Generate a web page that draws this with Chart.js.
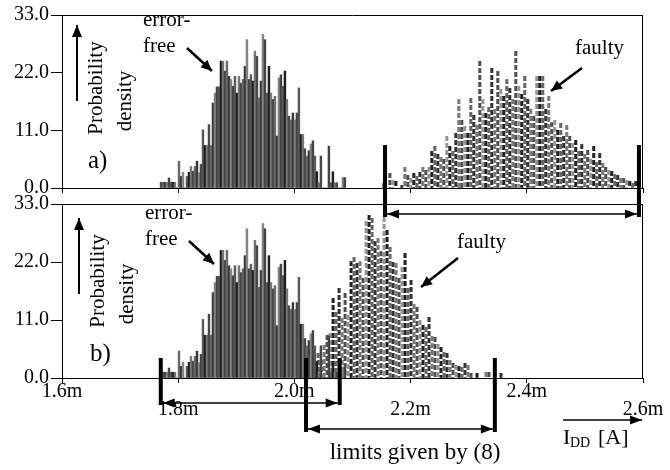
<!DOCTYPE html>
<html>
<head>
<meta charset="utf-8">
<script src="https://cdn.jsdelivr.net/npm/chart.js@4.4.1/dist/chart.umd.min.js"></script>
<style>
  html, body { margin: 0; padding: 0; background: #fff; }
  #wrap { position: relative; width: 670px; height: 470px; }
  #wrap canvas { position: absolute; left: 0; top: 0; }
</style>
</head>
<body>
<div id="wrap">
  <canvas id="chartA" width="670" height="470"></canvas>
  <canvas id="chartB" width="670" height="470"></canvas>
</div>
<script>
// axis ticks (I_DD in mA, probability density)
const xTicks = [1.6, 1.8, 2.0, 2.2, 2.4, 2.6]
const yTicks = [0, 11, 22, 33]

// error-free histogram (same in a and b)
const freeStart = 1.7704
const freeBin = 0.00344
const freeValues = [
  1.1, 1.1, 1.1, 1.1, 1.9, 1.1, 1.1, 1.1, 0, 5.1,
  2.2, 3.0, 0, 2.2, 3.0, 4.1, 3.2, 4.1, 5.1, 2.9,
  4.5, 11.1, 8.1, 8.1, 12.1, 8.1, 16.2, 18.1, 19.3, 19.3,
  24.2, 24.2, 22.3, 24.2, 21.3, 20.7, 19.4, 21.3, 18.1, 21.3,
  20.0, 20.7, 23.2, 28.3, 20.7, 21.6, 20.4, 26.1, 25.1, 17.2,
  20.4, 29.3, 28.3, 18.1, 23.2, 18.1, 16.9, 17.5, 9.9, 21.0,
  21.6, 19.4, 22.3, 16.9, 13.7, 13.0, 14.3, 13.0, 14.3, 19.1,
  10.2, 10.2, 7.5, 6.1, 7.1, 8.4, 9.0, 6.1, 3.1, 1.0,
  6.1, 0, 0, 0, 8.0, 1.0, 3.1, 1.0, 1.0, 0,
  0, 2.0, 2.0
]

// faulty histogram, panel a)
const faultyAStart = 2.154
const faultyABin = 0.00516
const faultyAValues = [
  1.0, 0, 2.9, 1.5, 1.3, 0, 0.5, 4.1, 2.5, 2.0,
  2.8, 2.2, 3.0, 4.1, 3.5, 4.1, 7.0, 8.0, 6.5, 6.0,
  5.5, 9.9, 8.0, 7.0, 10.5, 16.9, 13.0, 11.8, 10.5, 17.2,
  14.0, 12.0, 24.2, 16.9, 14.3, 15.5, 22.9, 15.0, 22.3, 18.8,
  17.5, 20.7, 19.1, 17.0, 26.1, 19.4, 18.0, 21.3, 16.9, 15.0,
  13.7, 21.3, 21.3, 21.3, 15.0, 17.5, 12.5, 13.0, 11.0, 12.4,
  10.0, 12.1, 9.9, 8.5, 9.2, 7.0, 8.3, 6.5, 7.3, 5.5,
  8.0, 5.0, 6.7, 4.8, 4.1, 3.5, 3.2, 2.6, 2.5, 1.9,
  1.9, 1.5, 1.3, 1.0, 1.3, 0.8
]

// faulty histogram, panel b)
const faultyBStart = 2.015
const faultyBBin = 0.00516
const faultyBValues = [
  1.0, 2.0, 1.5, 2.8, 3.0, 4.7, 3.5, 6.3, 8.2, 8.5,
  15.1, 12.6, 17.0, 11.3, 16.1, 12.0, 22.1, 23.0, 21.8, 22.1,
  18.9, 29.7, 31.0, 30.3, 25.9, 26.5, 24.0, 30.6, 28.1, 24.9,
  22.0, 21.8, 19.0, 21.1, 23.7, 17.0, 18.6, 14.0, 13.5, 11.0,
  10.0, 9.7, 11.6, 8.0, 7.8, 6.5, 5.9, 5.0, 4.7, 3.5,
  2.8, 2.5, 2.2, 2.0, 2.8, 2.5, 1.0, 0, 0.9, 0,
  0, 1.2, 1.2, 0, 0, 0, 0.9
]

// limits (thick black markers)
const limitsA = [2.156, 2.593]
const limitsB1 = [1.770, 2.078]
const limitsB2 = [2.020, 2.345]

const FONT = '"Liberation Serif", "DejaVu Serif", serif'
const freeShades = ['#474747', '#6a6a6a', '#383838', '#858585', '#444444', '#5a5a5a', '#1e1e1e', '#767676']
const dashShades = ['#333333', '#7a7a7a', '#505050', '#959595', '#222222', '#666666']
const DASH = 7, DASH_ON = 5

const patternCache = {}
function dashPattern(color, phase) {
  const key = color + '_' + phase
  if (!patternCache[key]) {
    const c = document.createElement('canvas')
    c.width = 1
    c.height = DASH
    const g = c.getContext('2d')
    g.fillStyle = color
    for (let j = 0; j < DASH; j++) {
      if ((((j - phase) % DASH) + DASH) % DASH < DASH_ON) g.fillRect(0, j, 1, 1)
    }
    patternCache[key] = g.createPattern(c, 'repeat')
  }
  return patternCache[key]
}

function dashColor(ctx) {
  const shade = dashShades[ctx.dataIndex % dashShades.length]
  const chart = ctx.chart
  if (!chart.scales || !chart.scales.y || !ctx.raw) return shade
  const top = Math.round(chart.scales.y.getPixelForValue(ctx.raw.y))
  return dashPattern(shade, ((top % DASH) + DASH) % DASH)
}

function toPoints(start, bin, values) {
  return values.map((v, i) => ({x: start + i * bin, y: v}))
}

function line(ctx, x1, y1, x2, y2, w) {
  ctx.lineWidth = w
  ctx.beginPath()
  ctx.moveTo(x1, y1)
  ctx.lineTo(x2, y2)
  ctx.stroke()
}

function head(ctx, x1, y1, x2, y2, len, half) {
  const a = Math.atan2(y2 - y1, x2 - x1)
  const c = Math.cos(a), s = Math.sin(a)
  ctx.beginPath()
  ctx.moveTo(x2, y2)
  ctx.lineTo(x2 - len * c + half * s, y2 - len * s - half * c)
  ctx.lineTo(x2 - len * c - half * s, y2 - len * s + half * c)
  ctx.closePath()
  ctx.fill()
}

function arrow(ctx, x1, y1, x2, y2, w, len, half) {
  line(ctx, x1, y1, x2, y2, w)
  head(ctx, x1, y1, x2, y2, len, half)
}

function doubleArrow(ctx, x1, x2, y) {
  line(ctx, x1, y, x2, y, 1.5)
  head(ctx, x2, y, x1, y, 12, 4.5)
  head(ctx, x1, y, x2, y, 12, 4.5)
}

function limitBar(ctx, x, y1, y2) {
  ctx.fillRect(x - 2, y1, 4, y2 - y1)
}

function text(ctx, s, x, y, size, align) {
  ctx.font = size + 'px ' + FONT
  ctx.textAlign = align || 'left'
  ctx.textBaseline = 'middle'
  ctx.fillText(s, x, y)
}

function vtext(ctx, s, x, y, size) {
  ctx.save()
  ctx.translate(x, y)
  ctx.rotate(-Math.PI / 2)
  text(ctx, s, 0, 0, size, 'center')
  ctx.restore()
}

// common panel decoration: top/right frame and labels
function drawPanel(ctx, area, n) {
  line(ctx, area.left, area.top + 0.5, area.right, area.top + 0.5, 1)
  line(ctx, area.right - 0.5, area.top, area.right - 0.5, area.bottom, 1)
  const t = area.top
  text(ctx, 'error-', 143 + n.dx, t + 5 + n.dy, 21)
  text(ctx, 'free', 143 + n.dx, t + 31 + n.dy, 21)
  arrow(ctx, 187 + n.dx, t + 33 + n.dy, 212 + n.dx, t + 56 + n.dy, 2.5, 11, 5)
  vtext(ctx, 'Probability', 96 + n.dx, t + 73 + n.dy, 21)
  vtext(ctx, 'density', 125 + n.dx, t + 86 + n.dy, 21)
  arrow(ctx, 77 + n.dx, t + 86 + n.dy, 77 + n.dx, t + 10 + n.dy, 2, 12, 5)
  text(ctx, n.tag, 88 + n.dx, t + 146 + n.dy, 25)
}

const panelAPlugin = {
  id: 'panelA',
  afterDraw(chart) {
    const ctx = chart.ctx
    const x = chart.scales.x
    const area = chart.chartArea
    ctx.save()
    ctx.fillStyle = '#000'
    ctx.strokeStyle = '#000'
    drawPanel(ctx, area, {dx: 0, dy: 0, tag: 'a)'})
    text(ctx, 'faulty', 575, 48, 21)
    arrow(ctx, 582, 68, 551, 91, 2.5, 11, 5)
    const xa = x.getPixelForValue(limitsA[0])
    const xb = x.getPixelForValue(limitsA[1])
    limitBar(ctx, xa, 145, 217)
    limitBar(ctx, xb, 145, 217)
    doubleArrow(ctx, xa + 2, xb - 2, 214)
    ctx.restore()
  }
}

const panelBPlugin = {
  id: 'panelB',
  afterDraw(chart) {
    const ctx = chart.ctx
    const x = chart.scales.x
    const area = chart.chartArea
    ctx.save()
    ctx.fillStyle = '#000'
    ctx.strokeStyle = '#000'
    drawPanel(ctx, area, {dx: 2, dy: 4, tag: 'b)'})
    text(ctx, 'faulty', 457, 242, 21)
    arrow(ctx, 458, 258, 421, 287, 2.5, 11, 5)
    const a1 = x.getPixelForValue(limitsB1[0])
    const a2 = x.getPixelForValue(limitsB1[1])
    limitBar(ctx, a1, 358, 405)
    limitBar(ctx, a2, 358, 405)
    doubleArrow(ctx, a1 + 2, a2 - 2, 403)
    const b1 = x.getPixelForValue(limitsB2[0])
    const b2 = x.getPixelForValue(limitsB2[1])
    limitBar(ctx, b1, 358, 432)
    limitBar(ctx, b2, 358, 432)
    doubleArrow(ctx, b1 + 2, b2 - 2, 429)
    text(ctx, 'limits given by (8)', 415, 453, 23, 'center')
    // axis name
    arrow(ctx, 563, 420, 642, 420, 1.5, 12, 4.5)
    text(ctx, 'I', 563, 438, 22)
    text(ctx, 'DD', 570, 443, 14)
    text(ctx, '[A]', 598, 438, 22)
    ctx.restore()
  }
}

function makeChart(id, faultyData, top, xHeight, showLabels, plugin) {
  return new Chart(document.getElementById(id), {
    type: 'bar',
    data: {
      datasets: [
        {
          label: 'error-free',
          data: toPoints(freeStart, freeBin, freeValues),
          backgroundColor: ctx => freeShades[ctx.dataIndex % freeShades.length],
          barThickness: 1.8,
          grouped: false
        },
        {
          label: 'faulty',
          data: faultyData,
          backgroundColor: dashColor,
          barThickness: 2.4,
          grouped: false
        }
      ]
    },
    options: {
      responsive: false,
      animation: false,
      devicePixelRatio: 1,
      layout: {padding: {top: top, right: 27, bottom: 0, left: 0}},
      plugins: {legend: {display: false}, tooltip: {enabled: false}},
      scales: {
        x: {
          type: 'linear',
          min: 1.6,
          max: 2.6,
          offset: false,
          afterBuildTicks: axis => { axis.ticks = xTicks.map(v => ({value: v})) },
          afterFit: axis => { axis.height = xHeight },
          grid: {display: true, offset: false, drawOnChartArea: false, drawTicks: true, tickLength: 5, color: '#000'},
          border: {display: true, color: '#000', width: 1},
          ticks: {
            display: showLabels,
            autoSkip: false,
            maxRotation: 0,
            padding: 0,
            color: '#000',
            font: {family: FONT, size: 20, lineHeight: 0.9},
            callback: (v, i) => {
              const s = (+v).toFixed(1) + 'm'
              return i % 2 === 0 ? s : ['', s]
            }
          }
        },
        y: {
          min: 0,
          max: 33,
          afterBuildTicks: axis => { axis.ticks = yTicks.map(v => ({value: v})) },
          afterFit: axis => { axis.width = 62 },
          grid: {display: true, drawOnChartArea: false, drawTicks: true, tickLength: 11, color: '#000'},
          border: {display: true, color: '#000', width: 1},
          ticks: {
            padding: 2,
            color: '#000',
            font: {family: FONT, size: 20},
            callback: v => (+v).toFixed(1)
          }
        }
      }
    },
    plugins: [plugin]
  })
}

makeChart('chartA', toPoints(faultyAStart, faultyABin, faultyAValues), 15, 282, false, panelAPlugin)
makeChart('chartB', toPoints(faultyBStart, faultyBBin, faultyBValues), 204, 92, true, panelBPlugin)
</script>
</body>
</html>
